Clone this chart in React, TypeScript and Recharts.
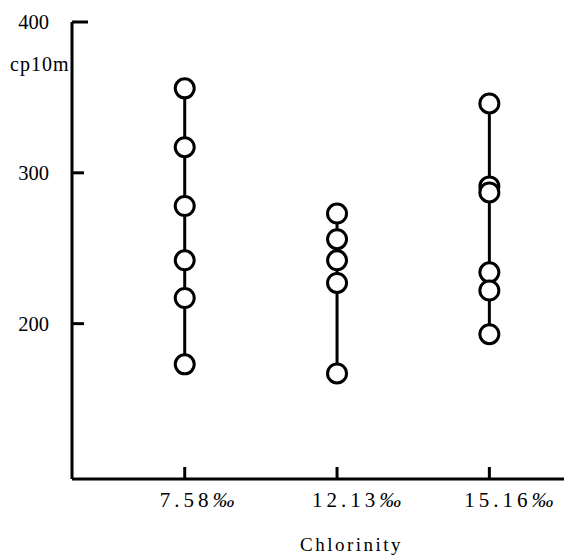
import React from "react";
import { ScatterChart, Scatter, XAxis, YAxis } from "recharts";

const categories = ["7.58", "12.13", "15.16"];
const s1 = [356, 317, 278, 242, 217, 173];
const s2 = [273, 256, 242, 227, 167];
const s3 = [346, 291, 287, 234, 222, 193];
const yTicks = [200, 300, 400];
const yMin = 97;
const yUnit = "cp10m";
const xTitle = "Chlorinity";

const toPts = (vals: number[], xi: number) => vals.map((v) => ({ x: xi, y: v }));
const series = [toPts(s1, 1), toPts(s2, 2), toPts(s3, 3)];

const FONT = "'Liberation Serif', 'DejaVu Serif', serif";

const YTick = (props: any) => {
  const { x, y, payload } = props;
  const len = payload.value === 400 ? 16 : 12;
  return (
    <g>
      <line x1={x} y1={y} x2={x + len} y2={y} stroke="#000" strokeWidth={3} />
      <text x={x - 23} y={y + 7} textAnchor="end" fontFamily={FONT} fontSize={20.5} fill="#000">
        {payload.value}
      </text>
    </g>
  );
};

const XTick = (props: any) => {
  const { x, y, payload } = props;
  const label = categories[payload.value - 1];
  return (
    <g>
      <line x1={x} y1={y} x2={x} y2={y - 12} stroke="#000" strokeWidth={3} />
      <text x={x - 25} y={y + 28} textAnchor="start" fontFamily={FONT} fontSize={21} fill="#000" letterSpacing={4}>
        {label}
        <tspan fontStyle="italic" fontSize={22} letterSpacing={0}>‰</tspan>
      </text>
    </g>
  );
};

const Dot = (props: any) => (
  <circle cx={props.cx} cy={props.cy} r={9.5} fill="#fff" stroke="#000" strokeWidth={3} />
);

export default function App() {
  return (
    <div style={{ position: "fixed", left: 0, top: 0, width: 564, height: 556, overflow: "hidden", background: "#fff" }}>
      <ScatterChart width={564} height={556} margin={{ top: 22, right: 0, left: 0, bottom: 0 }}>
        <XAxis
          type="number"
          dataKey="x"
          domain={[0.26, 3.49]}
          ticks={[1, 2, 3]}
          allowDataOverflow
          height={77}
          tickSize={0}
          tickMargin={0}
          tick={<XTick />}
          axisLine={{ stroke: "#000", strokeWidth: 3 }}
          interval={0}
        />
        <YAxis
          type="number"
          dataKey="y"
          domain={[yMin, 400]}
          ticks={yTicks}
          allowDataOverflow
          width={72}
          tickSize={0}
          tickMargin={0}
          tick={<YTick />}
          axisLine={{ stroke: "#000", strokeWidth: 3 }}
          interval={0}
        />
        {series.map((d, i) => (
          <Scatter
            key={i}
            data={d}
            line={{ stroke: "#000", strokeWidth: 3 }}
            lineType="joint"
            shape={<Dot />}
            isAnimationActive={false}
          />
        ))}
        <text x={10} y={71} fontFamily={FONT} fontSize={20} fill="#000" letterSpacing={1}>{yUnit}</text>
        <text x={300} y={551} fontFamily={FONT} fontSize={19} fill="#000" letterSpacing={2.5}>{xTitle}</text>
      </ScatterChart>
    </div>
  );
}
